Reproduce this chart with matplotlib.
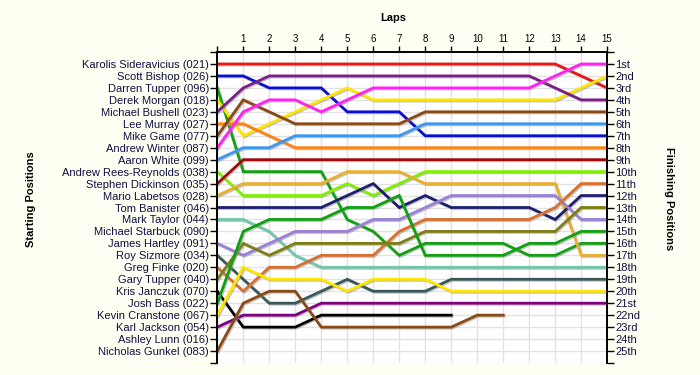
import matplotlib
matplotlib.use("Agg")
import matplotlib.pyplot as plt
import matplotlib.patheffects as pe

plt.rcParams['font.family'] = ['Liberation Sans', 'DejaVu Sans']

# drivers in starting order
pilotos = [
    "Karolis Sideravicius (021)", "Scott Bishop (026)", "Darren Tupper (096)",
    "Derek Morgan (018)", "Michael Bushell (023)", "Lee Murray (027)",
    "Mike Game (077)", "Andrew Winter (087)", "Aaron White (099)",
    "Andrew Rees-Reynolds (038)", "Stephen Dickinson (035)", "Mario Labetsos (028)",
    "Tom Banister (046)", "Mark Taylor (044)", "Michael Starbuck (090)",
    "James Hartley (091)", "Roy Sizmore (034)", "Greg Finke (020)",
    "Gary Tupper (040)", "Kris Janczuk (070)", "Josh Bass (022)",
    "Kevin Cranstone (067)", "Karl Jackson (054)", "Ashley Lunn (016)",
    "Nicholas Gunkel (083)",
]

finais = ["1st", "2nd", "3rd", "4th", "5th", "6th", "7th", "8th", "9th", "10th",
          "11th", "12th", "13th", "14th", "15th", "16th", "17th", "18th", "19th",
          "20th", "21st", "22nd", "23rd", "24th", "25th"]

voltas = list(range(1, 16))

# position at lap 0, 1, 2 ... (empty = no laps)
posicoes = [
    [1, 1, 1, 1, 1, 1, 1, 1, 1, 1, 1, 1, 1, 1, 2, 3],
    [2, 2, 3, 3, 3, 5, 5, 5, 7, 7, 7, 7, 7, 7, 7, 7],
    [3, 10, 10, 10, 10, 14, 15, 17, 16, 16, 16, 16, 17, 17, 16, 16],
    [4, 7, 6, 5, 4, 3, 4, 4, 4, 4, 4, 4, 4, 4, 3, 2],
    [5, 3, 2, 2, 2, 2, 2, 2, 2, 2, 2, 2, 2, 3, 4, 4],
    [6, 6, 7, 8, 8, 8, 8, 8, 8, 8, 8, 8, 8, 8, 8, 8],
    [7, 4, 5, 6, 6, 6, 6, 6, 5, 5, 5, 5, 5, 5, 5, 5],
    [8, 5, 4, 4, 5, 4, 3, 3, 3, 3, 3, 3, 3, 2, 1, 1],
    [9, 8, 8, 7, 7, 7, 7, 7, 6, 6, 6, 6, 6, 6, 6, 6],
    [10, 12, 12, 12, 12, 11, 12, 11, 10, 10, 10, 10, 10, 10, 10, 10],
    [11, 9, 9, 9, 9, 9, 9, 9, 9, 9, 9, 9, 9, 9, 9, 9],
    [12, 11, 11, 11, 11, 10, 10, 10, 11, 11, 11, 11, 11, 11, 17, 17],
    [13, 13, 13, 13, 13, 12, 11, 13, 12, 13, 13, 13, 13, 14, 12, 12],
    [14, 14, 15, 17, 18, 18, 18, 18, 18, 18, 18, 18, 18, 18, 18, 18],
    [],
    [16, 17, 16, 15, 15, 15, 14, 14, 13, 12, 12, 12, 12, 12, 14, 14],
    [17, 19, 21, 21, 20, 19, 20, 20, 20, 19, 19, 19, 19, 19, 19, 19],
    [18, 20, 18, 18, 17, 17, 17, 15, 14, 14, 14, 14, 14, 13, 11, 11],
    [19, 16, 17, 16, 16, 16, 16, 16, 15, 15, 15, 15, 15, 15, 13, 13],
    [20, 23, 23, 23, 22, 22, 22, 22, 22, 22],
    [21, 15, 14, 14, 14, 13, 13, 12, 17, 17, 17, 17, 16, 16, 15, 15],
    [22, 18, 19, 19, 19, 20, 19, 19, 19, 20, 20, 20, 20, 20, 20, 20],
    [23, 22, 22, 22, 21, 21, 21, 21, 21, 21, 21, 21, 21, 21, 21, 21],
    [],
    [25, 21, 20, 20, 23, 23, 23, 23, 23, 23, 22, 22],
]

cores = [
    "#e41a1a", "#0a10d0", "#14a014", "#ffe600", "#7a1f86", "#ff8410",
    "#8b4a14", "#ff22f0", "#3a98f0", "#80f000", "#a00a0a", "#e8b030",
    "#1e1e6e", "#70c8a8", "#000000", "#9a80d8", "#3a5858", "#d8702e",
    "#7e7e10", "#000000", "#10a010", "#ffe600", "#800080", "#000000",
    "#8b4a14",
]

fig = plt.figure(figsize=(7, 3.75), dpi=100, facecolor="#fffff4")
ax = fig.add_axes([0.3104, 0.032, 0.557, 0.8293])
ax.set_facecolor("white")

sombra = [pe.SimpleLineShadow(offset=(0.8, -0.8), shadow_color="#888888", alpha=0.5),
          pe.Normal()]

for pos, cor in zip(posicoes, cores):
    if len(pos) == 0:
        continue
    ax.plot(range(len(pos)), pos, color=cor, lw=2.0, solid_joinstyle="miter",
            path_effects=sombra, zorder=3)

ax.set_xlim(0, 15)
ax.set_ylim(26, 0)

ax.set_xticks(range(0, 16))
ax.set_xticklabels([""] + [str(v) for v in voltas])
ax.xaxis.tick_top()
ax.tick_params(axis="x", direction="out", length=4, width=1, labelsize=7,
               colors="black", pad=2)

ax.set_yticks(range(0, 27))
ax.set_yticklabels([""] + pilotos + [""])
ax.tick_params(axis="y", direction="out", length=5, width=1, labelsize=8,
               labelcolor="#101040", pad=1)

ax2 = ax.twinx()
ax2.set_ylim(26, 0)
ax2.set_yticks(range(0, 27))
ax2.set_yticklabels([""] + finais + [""])
ax2.tick_params(axis="y", direction="out", length=5, width=1, labelsize=8,
                labelcolor="#101040", pad=1)

ax.grid(True, color="#e2e2e2", lw=1, zorder=0)
ax.set_axisbelow(True)

for a in (ax, ax2):
    a.spines["bottom"].set_visible(False)
    a.spines["top"].set_linewidth(1.2)
    a.spines["left"].set_linewidth(1.2)
    a.spines["right"].set_linewidth(1.2)

fig.text(0.562, 0.952, "Laps", fontsize=8, fontweight="bold", ha="center", va="center")
fig.text(0.044, 0.47, "Starting Positions", fontsize=8, fontweight="bold",
         rotation=90, ha="center", va="center")
fig.text(0.955, 0.47, "Finishing Positions", fontsize=8, fontweight="bold",
         rotation=270, ha="center", va="center")

fig.savefig("out.png", dpi=100, facecolor=fig.get_facecolor())
